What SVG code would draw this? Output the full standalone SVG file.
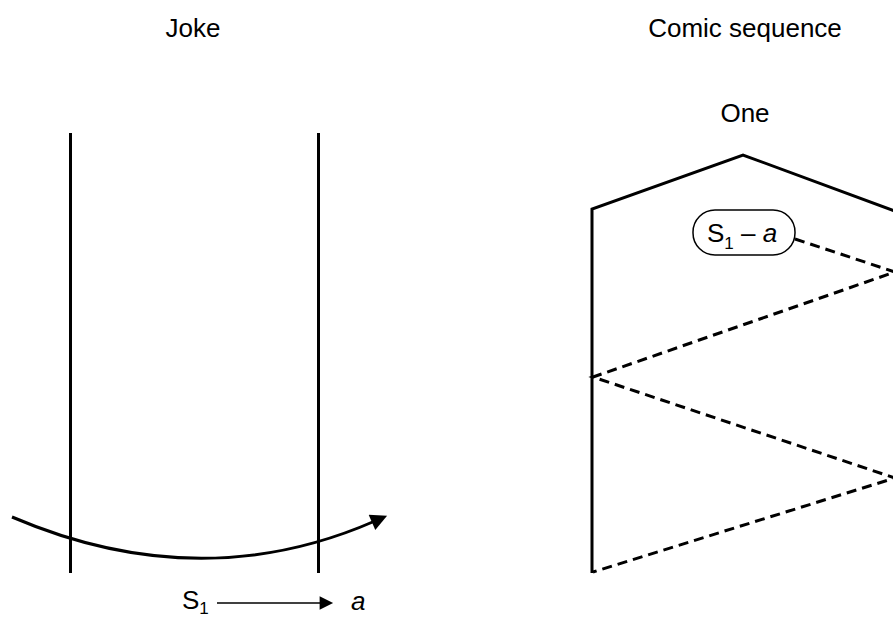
<svg xmlns="http://www.w3.org/2000/svg" width="893" height="617" viewBox="0 0 893 617">
<style>
.t{font-family:"Liberation Sans",Arial,sans-serif;font-size:26px;fill:#000}
.it{font-style:italic}
.sub{font-size:17px}
.solid{fill:none;stroke:#000;stroke-width:3}
.thin{fill:none;stroke:#000;stroke-width:1.5}
.dash{fill:none;stroke:#000;stroke-width:3;stroke-dasharray:10 6}
</style>
<defs>
<marker id="ah" viewBox="0 0 10 10" refX="2" refY="5" markerWidth="6" markerHeight="5.5" markerUnits="strokeWidth" orient="auto">
<path d="M0,0 L10,5 L0,10 Z" fill="#000"/>
</marker>
<marker id="ah2" viewBox="0 0 10 10" refX="1" refY="5" markerWidth="11" markerHeight="9" markerUnits="strokeWidth" orient="auto">
<path d="M0,0 L10,5 L0,10 Z" fill="#000"/>
</marker>
</defs>
<g id="joke">
<text class="t" x="193" y="37" text-anchor="middle">Joke</text>
<line class="solid" x1="70.5" y1="133" x2="70.5" y2="573"/>
<line class="solid" x1="318.5" y1="133" x2="318.5" y2="573"/>
</g>
<g id="comic">
<text class="t" x="745" y="37" text-anchor="middle">Comic sequence</text>
<text class="t" x="745" y="122" text-anchor="middle">One</text>
<polyline class="solid" points="592,573 592,209 743,155 900,213"/>
</g>
<g id="pill">
<rect class="thin" x="693" y="210" width="102" height="45" rx="22" ry="22" fill="#fff"/>
<text class="t" x="707" y="242">S<tspan class="sub" dy="7">1</tspan><tspan dy="-7"> – </tspan><tspan class="it">a</tspan></text>
</g>
<g id="s1a">
<text class="t" x="182" y="609">S<tspan class="sub" dy="5">1</tspan></text>
<text class="t it" x="351" y="610">a</text>
</g>
<g id="connectors">
<path class="solid" d="M12,517 Q200,597.5 375,521" marker-end="url(#ah)"/>
<line class="thin" x1="217" y1="603" x2="321" y2="603" marker-end="url(#ah2)"/>
<polyline class="dash" points="795,239 895,272 593,377 895,478 593,572"/>
</g>
</svg>
